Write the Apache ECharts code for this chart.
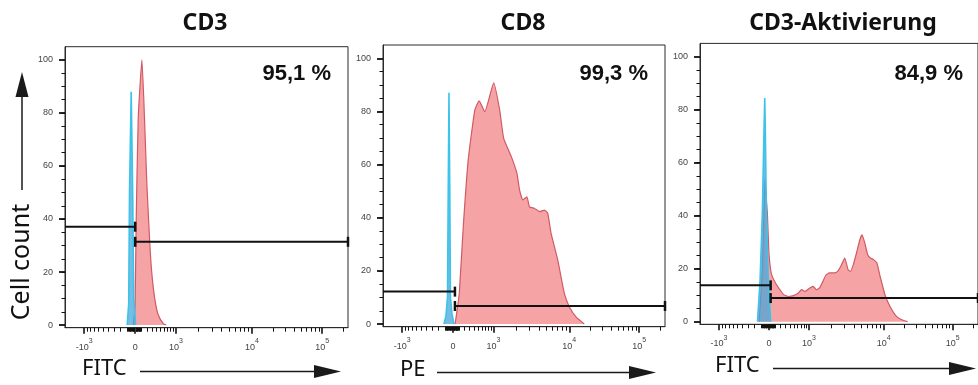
<!DOCTYPE html>
<html>
<head>
  <meta charset="utf-8">
  <title>CD3 / CD8 / CD3-Aktivierung</title>
  <style>
    html, body { margin: 0; padding: 0; background: #fff; }
    #main { width: 978px; height: 385px; }
  </style>
</head>
<body>
<div id="main"></div>
<script src="https://cdn.jsdelivr.net/npm/echarts@6/dist/echarts.min.js"></script>
<script>
  // x values are in display units of the biexponential scale (one decade ~ 100)
  var titles = ['CD3', 'CD8', 'CD3-Aktivierung'];
  var percents = ['95,1 %', '99,3 %', '84,9 %'];
  var axisNames = ['FITC', 'PE', 'FITC'];

  var yMajor = [0, 20, 40, 60, 80, 100];
  var xMajor = [-69, 0, 55, 158, 253];
  var xLabels = ['-10|3', '0', '10|3', '10|4', '10|5'];

  // CD3 panel
  var cd3Control = [[-10.8, 0], [-8.8, 8], [-7.7, 50], [-5.4, 88], [-3.4, 50], [-2, 10], [0.7, 0]];
  var cd3Stained = [[-2.7, 0], [-0.7, 5], [0, 10], [1.4, 40], [4.1, 78], [9.1, 100], [12.6, 78], [15.8, 53],
    [20.3, 28], [23, 18], [27, 9], [31, 4], [38, 0.5], [42, 0]];

  // CD8 panel
  var cd8Control = [[-12.2, 0], [-9.5, 3], [-7.4, 10], [-6.4, 50], [-5.4, 87], [-4.3, 50], [-3.4, 10], [-1.4, 4], [1.4, 0]];
  var cd8Stained = [[2.7, 0], [4, 2], [8.6, 11.5], [14, 36.6], [20.7, 61.7], [29.7, 80.5], [35.6, 84], [43.2, 79.9],
    [55.4, 90.8], [63.5, 80.5], [68.9, 69.9], [79.3, 63], [86.9, 56.7], [90.5, 50.4], [95, 46.7], [100.4, 47.9],
    [104, 44.1], [110.8, 43.5], [117.5, 42.3], [124.3, 42.9], [128.7, 41.7], [133.3, 34.1], [142.3, 24.1],
    [151.3, 11.5], [158, 6.5], [167.1, 2.7], [178.3, 0]];

  // CD3-Aktivierung panel
  var actControl = [[-15.8, 0], [-12.2, 15.8], [-9.1, 41], [-6.8, 72.5], [-5.8, 84.4], [-5, 72.5], [-3.6, 41], [-0.9, 15.8], [2.3, 0]];
  var actStained = [[-13.5, 0], [-9, 20], [-6.5, 45], [-5.4, 54], [-4, 48], [-2.2, 41], [-0.9, 32], [0, 25.9],
    [2.3, 19.6], [4.5, 17.1], [9, 14.6], [13.5, 12.7], [20.3, 10.2], [27, 9.5], [33.8, 9.8], [40.5, 10.8],
    [45, 12.1], [49.6, 11.4], [56.3, 12.7], [60.8, 13.3], [65.3, 12.1], [69.8, 12.7], [74.3, 15.2], [78.8, 17.7],
    [83.4, 18.4], [90.1, 18.4], [94.6, 19], [99, 20.9], [104.4, 24], [109, 19.6], [112.5, 19], [116.2, 21.5],
    [120.6, 25.9], [125.2, 30.9], [128.3, 32.8], [132, 29.7], [136, 25.3], [139.6, 24], [144.2, 23.4],
    [148.6, 22.2], [153.1, 17.1], [159.8, 10.2], [166.6, 5.8], [175.6, 2], [184.7, 0.5], [191, 0]];

  // gates: split point, height of the negative and positive gate
  var gateSplit = [0, 2.7, 2.3];
  var gateNegY = [37.1, 12.2, 13.7];
  var gatePosY = [31.4, 6.8, 8.9];

  var controls = [cd3Control, cd8Control, actControl];
  var stained = [cd3Stained, cd8Stained, actStained];

  var X_MIN = -95, X_MAX = 288, Y_MIN = -1, Y_MAX = 105;

  // minor ticks of the biexponential axis
  var xMinor = [];
  function lin(v, top, pos) { return pos * Math.asinh(v / 426) / Math.asinh(top / 426); }
  for (var m = 1; m <= 9; m++) {
    xMinor.push(lin(m * 10, 1000, 55), -lin(m * 10, 1000, 69));
    xMinor.push(lin(m * 100, 1000, 55), -lin(m * 100, 1000, 69));
  }
  for (var k = 2; k <= 9; k++) {
    xMinor.push(55 + Math.log10(k) * 103, 158 + Math.log10(k) * 95);
  }
  xMinor.push(253 + Math.log10(2) * 95);
  var yMinor = [];
  for (var t = 5; t < 100; t += 5) yMinor.push(t);

  var grids = [
    { left: 65, right: 630, top: 46.7, bottom: 57.3 },
    { left: 383, right: 313, top: 45, bottom: 58.3 },
    { left: 700, right: -5, top: 43.4, bottom: 60.7 }
  ];

  var labelFont = '"Liberation Sans", Arial, sans-serif';
  var xAxes = [], yAxes = [], series = [];

  grids.forEach(function (g, i) {
    g.show = true;
    g.borderColor = '#2a2a2a';
    g.borderWidth = 1;

    xAxes.push({
      type: 'value', gridIndex: i, min: X_MIN, max: X_MAX, position: 'bottom',
      axisLine: { show: true, onZero: false, lineStyle: { color: '#2a2a2a', width: 1 } },
      axisTick: { show: true, customValues: xMajor, length: 6, lineStyle: { color: '#111', width: 1.6 } },
      axisLabel: {
        show: true, customValues: xMajor, margin: 10,
        formatter: function (v) {
          var idx = 0;
          xMajor.forEach(function (p, j) { if (Math.abs(p - v) < 0.01) idx = j; });
          var parts = xLabels[idx].split('|');
          return parts.length > 1 ? '{n|' + parts[0] + '}{s|' + parts[1] + '}' : '{n|' + parts[0] + '}';
        },
        rich: {
          n: { fontSize: 9, fontFamily: labelFont, color: '#444', lineHeight: 14, verticalAlign: 'bottom' },
          s: { fontSize: 7, fontFamily: labelFont, color: '#444', lineHeight: 8, verticalAlign: 'top' }
        }
      },
      splitLine: { show: false }
    });
    xAxes.push({
      type: 'value', gridIndex: i, min: X_MIN, max: X_MAX, position: 'bottom',
      axisLine: { show: false, onZero: false },
      axisTick: { show: true, customValues: xMinor, length: 4, lineStyle: { color: '#111', width: 1 } },
      axisLabel: { show: false },
      splitLine: { show: false }
    });
    yAxes.push({
      type: 'value', gridIndex: i, min: Y_MIN, max: Y_MAX, position: 'left',
      axisLine: { show: true, onZero: false, lineStyle: { color: '#2a2a2a', width: 1 } },
      axisTick: { show: true, customValues: yMajor, length: 6, lineStyle: { color: '#111', width: 1.8 } },
      axisLabel: { show: true, customValues: yMajor, margin: 12, fontSize: 9, fontFamily: labelFont, color: '#444' },
      splitLine: { show: false }
    });
    yAxes.push({
      type: 'value', gridIndex: i, min: Y_MIN, max: Y_MAX, position: 'left',
      axisLine: { show: false, onZero: false },
      axisTick: { show: true, customValues: yMinor, length: 3.5, lineStyle: { color: '#111', width: 1 } },
      axisLabel: { show: false },
      splitLine: { show: false }
    });

    series.push({
      type: 'line', xAxisIndex: i * 2, yAxisIndex: i * 2, data: stained[i],
      showSymbol: false, symbol: 'none', smooth: 0.15, z: 2,
      lineStyle: { color: '#d05a64', width: 1.2 },
      areaStyle: { color: '#f6a3a6', opacity: 1 }
    });
    series.push({
      type: 'line', xAxisIndex: i * 2, yAxisIndex: i * 2, data: controls[i],
      showSymbol: false, symbol: 'none', z: 3,
      lineStyle: { color: '#3bc3ea', width: 1.6 },
      areaStyle: { color: '#4aa6d8', opacity: 0.75 }
    });
    series.push({
      type: 'line', xAxisIndex: i * 2, yAxisIndex: i * 2, z: 5,
      data: [{ value: [X_MIN, gateNegY[i]], symbol: 'none' }, [gateSplit[i], gateNegY[i]]],
      symbol: 'rect', symbolSize: [2.5, 10], showSymbol: true,
      itemStyle: { color: '#111' }, lineStyle: { color: '#111', width: 2 }
    });
    series.push({
      type: 'line', xAxisIndex: i * 2, yAxisIndex: i * 2, z: 5,
      data: [[gateSplit[i], gatePosY[i]], [X_MAX, gatePosY[i]]],
      symbol: 'rect', symbolSize: [2.5, 10], showSymbol: true,
      itemStyle: { color: '#111' }, lineStyle: { color: '#111', width: 2 }
    });
  });

  // decorations: titles, percentages, axis names with arrows
  var titleX = [205, 523, 843];
  var pctRight = [331, 648, 963];
  var nameX = [82, 400, 715];
  var nameY = [369, 370, 366];
  var arrowStart = [140, 437, 773];
  var arrowEnd = [341, 656, 976];

  var graphics = [];
  function arrowHead(x, y) {
    return { type: 'polygon', shape: { points: [[x, y], [x - 27, y - 6.5], [x - 27, y + 6.5]] }, style: { fill: '#1a1a1a' } };
  }
  titles.forEach(function (t, i) {
    graphics.push({
      type: 'text', x: titleX[i], y: 23,
      style: { text: t, font: 'bold 23px "Noto Sans", sans-serif', fill: '#111',
        textAlign: 'center', textVerticalAlign: 'middle', align: 'center', verticalAlign: 'middle' }
    });
    graphics.push({
      type: 'text', x: pctRight[i], y: 74,
      style: { text: percents[i], font: 'bold 22px "Liberation Sans", Arial, sans-serif', fill: '#111',
        textAlign: 'right', textVerticalAlign: 'middle', align: 'right', verticalAlign: 'middle' }
    });
    graphics.push({
      type: 'text', x: nameX[i], y: nameY[i],
      style: { text: axisNames[i], font: '22px "Noto Sans", sans-serif', fill: '#111',
        textAlign: 'left', textVerticalAlign: 'middle', align: 'left', verticalAlign: 'middle' }
    });
    graphics.push({
      type: 'line', shape: { x1: arrowStart[i], y1: nameY[i] + 2.5, x2: arrowEnd[i] - 20, y2: nameY[i] + 2.5 },
      style: { stroke: '#1a1a1a', lineWidth: 1.5 }
    });
    graphics.push(arrowHead(arrowEnd[i], nameY[i] + 2.5));
  });
  graphics.push({
    type: 'text', x: 22, y: 262, rotation: Math.PI / 2,
    style: { text: 'Cell count', font: '25px "Noto Sans", sans-serif', fill: '#111',
      textAlign: 'center', textVerticalAlign: 'middle', align: 'center', verticalAlign: 'middle' }
  });
  graphics.push({
    type: 'line', shape: { x1: 22, y1: 190, x2: 22, y2: 92 },
    style: { stroke: '#1a1a1a', lineWidth: 1.5 }
  });
  graphics.push({
    type: 'polygon', shape: { points: [[22, 72], [15.5, 97], [28.5, 97]] }, style: { fill: '#1a1a1a' }
  });

  var myChart = echarts.init(document.getElementById('main'));
  myChart.setOption({
    animation: false,
    backgroundColor: '#fff',
    grid: grids,
    xAxis: xAxes,
    yAxis: yAxes,
    series: series,
    graphic: graphics
  });
</script>
</body>
</html>
